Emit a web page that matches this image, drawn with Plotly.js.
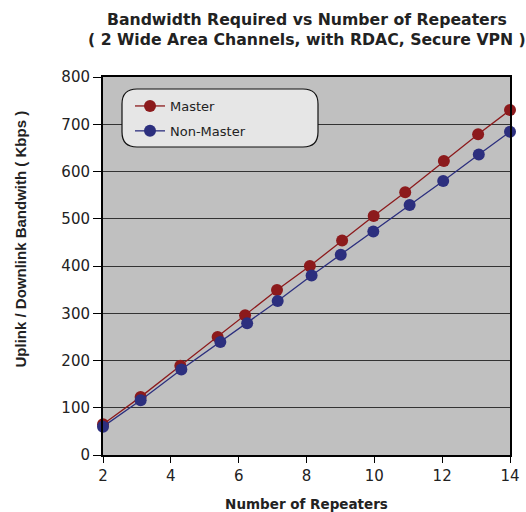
<!DOCTYPE html>
<html>
<head>
<meta charset="utf-8">
<script src="https://cdn.plot.ly/plotly-3.0.1.min.js"></script>
<style>html,body{margin:0;padding:0;background:#fff;}#chart{width:526px;height:512px;}</style>
</head>
<body>
<div id="chart"></div>
<script>
// Data
var masterX = [2.0, 3.11, 4.28, 5.38, 6.19, 7.13, 8.10, 9.05, 9.98, 10.91, 12.05, 13.06, 14.0];
var masterY = [65, 123, 189, 250, 296, 349, 400, 454, 506, 556, 622, 679, 730];
var nonMasterX = [2.0, 3.11, 4.31, 5.46, 6.25, 7.15, 8.15, 9.01, 9.97, 11.04, 12.03, 13.08, 14.0];
var nonMasterY = [60, 116, 181, 239, 279, 326, 380, 424, 473, 529, 580, 636, 684];
var seriesNames = ["Master", "Non-Master"];
var xTicks = [2, 4, 6, 8, 10, 12, 14];
var yTicks = [0, 100, 200, 300, 400, 500, 600, 700, 800];
var titleLines = ["Bandwidth Required vs Number of Repeaters", "( 2 Wide Area Channels, with RDAC, Secure VPN )"];
var xTitle = "Number of Repeaters";
var yTitle = "Uplink / Downlink Bandwith ( Kbps )";

var redC = "#8c1a1c", blueC = "#2c2f7e";
var WIDE = "DejaVu Sans, Verdana, sans-serif";
var ARIAL = "Liberation Sans, Arial, sans-serif";

var traces = [
  {x: masterX, y: masterY, name: seriesNames[0], mode: "lines+markers", legendgroup: "a",
   line: {color: redC, width: 1.3}, marker: {color: redC, size: 12}, cliponaxis: false},
  {x: nonMasterX, y: nonMasterY, name: seriesNames[1], mode: "lines+markers", legendgroup: "b",
   line: {color: blueC, width: 1.3}, marker: {color: blueC, size: 12}, cliponaxis: false}
];

// helpers: pixel -> paper coords (plot area 103..510 x, 77..455 y)
var W = 407, H = 378;
function px2x(p) { return (p - 103) / W; }
function py2y(p) { return (455 - p) / H; }
var x0 = px2x(122), x1 = px2x(318), y0 = py2y(147), y1 = py2y(89);
var rx = 15 / W, ry = 15 / H;
var boxPath = "M" + (x0+rx) + "," + y1 + " L" + (x1-rx) + "," + y1 + " Q" + x1 + "," + y1 + " " + x1 + "," + (y1-ry) +
  " L" + x1 + "," + (y0+ry) + " Q" + x1 + "," + y0 + " " + (x1-rx) + "," + y0 +
  " L" + (x0+rx) + "," + y0 + " Q" + x0 + "," + y0 + " " + x0 + "," + (y0+ry) +
  " L" + x0 + "," + (y1-ry) + " Q" + x0 + "," + y1 + " " + (x0+rx) + "," + y1 + " Z";

var layout = {
  width: 526, height: 512,
  margin: {l: 103, r: 16, t: 77, b: 57},
  paper_bgcolor: "#ffffff",
  plot_bgcolor: "#c0c0c0",
  font: {family: WIDE, color: "#222222", size: 14},
  xaxis: {
    range: [2, 14], tickvals: xTicks, ticktext: xTicks.map(String),
    showgrid: false, zeroline: false,
    showline: true, linecolor: "#000", linewidth: 2, mirror: true,
    ticks: "outside", ticklen: 6, tickcolor: "#000", tickwidth: 1,
    tickfont: {size: 15, family: WIDE, color: "#222"},
    title: {text: "<b>" + xTitle + "</b>", font: {size: 13.5, family: WIDE, color: "#222"}, standoff: 21}
  },
  yaxis: {
    range: [0, 800], tickvals: yTicks, ticktext: yTicks.map(String),
    showgrid: true, gridcolor: "#333333", gridwidth: 1, zeroline: false,
    showline: true, linecolor: "#000", linewidth: 2, mirror: true,
    ticks: "outside", ticklen: 8, tickcolor: "#000", tickwidth: 1,
    tickfont: {size: 15, family: WIDE, color: "#222"}
  },
  annotations: [
    {text: "<b>" + titleLines[0] + "<br>" + titleLines[1] + "</b>", xref: "paper", yref: "paper", x: 0.5, y: py2y(29),
     xanchor: "center", yanchor: "middle", showarrow: false, font: {size: 15.7, family: WIDE, color: "#222"}},
    {text: "<b>" + yTitle + "</b>", xref: "paper", yref: "paper", x: px2x(19.5), y: py2y(239),
     xanchor: "center", yanchor: "middle", textangle: -90, showarrow: false, font: {size: 15, family: ARIAL, color: "#222"}}
  ],
  showlegend: true,
  legend: {
    x: px2x(130), y: py2y(91), xanchor: "left", yanchor: "top",
    bgcolor: "rgba(0,0,0,0)", borderwidth: 0,
    font: {size: 13, family: WIDE, color: "#222"},
    traceorder: "grouped", tracegroupgap: 5
  },
  shapes: [
    {type: "path", xref: "paper", yref: "paper", path: boxPath, fillcolor: "#e6e6e6",
     line: {color: "#111", width: 1.2}, layer: "above"}
  ]
};

Plotly.newPlot("chart", traces, layout, {displayModeBar: false, staticPlot: true});
</script>
</body>
</html>
